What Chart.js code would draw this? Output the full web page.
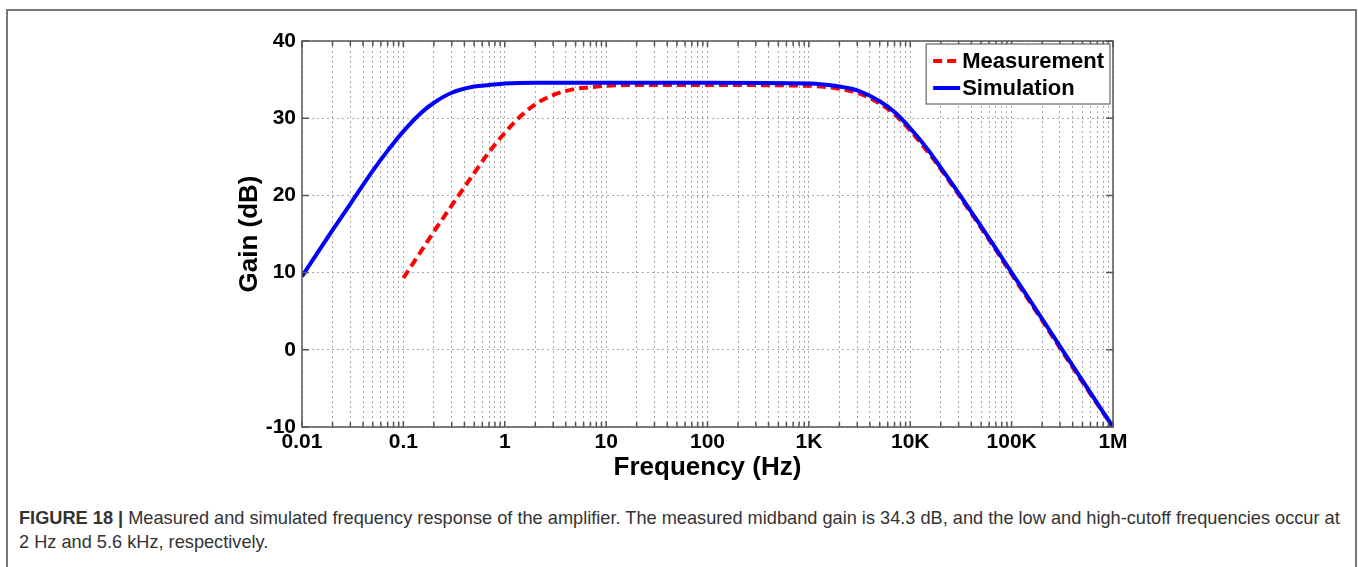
<!DOCTYPE html>
<html>
<head>
<meta charset="utf-8">
<script src="https://cdn.jsdelivr.net/npm/chart.js@4.4.1/dist/chart.umd.min.js"></script>
<style>
  body { margin: 0; background: #fff; }
  #frame { position: absolute; left: 6px; top: 9px; width: 1347px; height: 620px; border: 2px solid #777; border-bottom: none; }
  #wrap { position: absolute; left: 0; top: 0; width: 1358px; height: 490px; }
  #caption { position: absolute; left: 19px; top: 506px; font-family: "Liberation Sans", Arial, sans-serif; font-size: 18.2px; color: #333; line-height: 24px; white-space: nowrap; }
</style>
</head>
<body>
<div id="frame"></div>
<div id="wrap"><canvas id="grafico"></canvas></div>
<div id="caption"><b>FIGURE 18 |</b> Measured and simulated frequency response of the amplifier. The measured midband gain is 34.3 dB, and the low and high-cutoff frequencies occur at<br>2 Hz and 5.6 kHz, respectively.</div>

<script>
// valores (Hz, dB)
const freqSim = [0.01, 0.02, 0.03, 0.05, 0.07, 0.1, 0.15, 0.2, 0.3, 0.5, 0.7, 1, 2, 5, 10, 100, 1000, 2000, 3000, 5000, 7000, 10000, 15000, 20000, 30000, 50000, 70000, 100000, 200000, 500000, 1000000];
const gainSim = [9.5, 15.5, 18.9, 23.2, 25.8, 28.3, 30.7, 32.0, 33.3, 34.1, 34.3, 34.5, 34.6, 34.6, 34.6, 34.6, 34.5, 34.1, 33.6, 32.2, 30.8, 28.7, 25.9, 23.6, 20.3, 16.0, 13.1, 10.0, 4.0, -4.0, -10.0];

const freqMeas = [0.1, 0.15, 0.2, 0.3, 0.5, 0.7, 1, 1.5, 2, 3, 5, 7, 10, 20, 100, 1000, 2000, 3000, 5000, 7000, 10000, 15000, 20000, 30000, 50000, 70000, 100000, 200000, 500000, 1000000];
const gainMeas = [9.3, 12.8, 15.3, 18.7, 22.9, 25.6, 28.1, 30.5, 31.8, 33.0, 33.8, 34.0, 34.2, 34.3, 34.3, 34.2, 33.8, 33.3, 31.9, 30.5, 28.4, 25.6, 23.4, 20.1, 15.8, 12.9, 9.8, 3.8, -4.2, -10.0];

const tickValues = [0.01, 0.1, 1, 10, 100, 1000, 10000, 100000, 1000000];
const tickLabels = ["0.01", "0.1", "1", "10", "100", "1K", "10K", "100K", "1M"];
const yMin = -10, yMax = 40, yStep = 10;

const seriesNames = ["Measurement", "Simulation"];

// ticks menores 2..9 em cada década
let allTicks = [];
for (let i = 0; i < tickValues.length; i++) {
  allTicks.push({ value: tickValues[i], major: true });
  if (i < tickValues.length - 1) {
    for (let k = 2; k <= 9; k++) {
      allTicks.push({ value: tickValues[i] * k, major: false });
    }
  }
}

function pontos(xs, ys) {
  return xs.map((x, i) => ({ x: x, y: ys[i] }));
}

const boxPlugin = {
  id: 'box',
  afterDatasetsDraw(chart) {
    const { ctx, chartArea: a, scales } = chart;
    const x = scales.x, y = scales.y;
    ctx.save();
    ctx.strokeStyle = '#555';
    ctx.lineWidth = 1.5;
    ctx.strokeRect(a.left, a.top, a.right - a.left, a.bottom - a.top);
    ctx.beginPath();
    x.ticks.forEach(t => {
      const px = x.getPixelForValue(t.value);
      const len = t.major ? 6 : 5;
      ctx.moveTo(px, a.bottom); ctx.lineTo(px, a.bottom - len);
      ctx.moveTo(px, a.top); ctx.lineTo(px, a.top + len);
    });
    y.ticks.forEach(t => {
      const py = y.getPixelForValue(t.value);
      ctx.moveTo(a.left, py); ctx.lineTo(a.left + 7, py);
      ctx.moveTo(a.right, py); ctx.lineTo(a.right - 7, py);
    });
    ctx.stroke();
    ctx.restore();
  },
  afterDraw(chart) {
    const { ctx, chartArea: a } = chart;
    const ds = chart.data.datasets;
    ctx.save();
    ctx.font = 'bold 22px "Liberation Sans", Arial, sans-serif';
    let w = 0;
    ds.forEach(d => { w = Math.max(w, ctx.measureText(d.label).width); });
    const boxW = 36 + w + 6, boxH = 60;
    const bx = a.right - 3 - boxW, by = a.top + 3;
    ctx.fillStyle = '#fff';
    ctx.fillRect(bx, by, boxW, boxH);
    ctx.strokeStyle = '#666';
    ctx.lineWidth = 1.2;
    ctx.strokeRect(bx, by, boxW, boxH);
    ds.forEach((d, i) => {
      const ly = by + 17 + i * 27;
      ctx.beginPath();
      ctx.strokeStyle = d.borderColor;
      ctx.lineWidth = 4;
      ctx.setLineDash(d.borderDash || []);
      ctx.moveTo(bx + 7, ly);
      ctx.lineTo(bx + 34, ly);
      ctx.stroke();
      ctx.setLineDash([]);
      ctx.fillStyle = '#000';
      ctx.textBaseline = 'middle';
      ctx.fillText(d.label, bx + 36, ly + 1);
    });
    ctx.restore();
  }
};

const canvas = document.getElementById("grafico");

const chart = new Chart(canvas, {
  type: 'line',
  data: {
    datasets: [
      {
        label: seriesNames[0],
        data: pontos(freqMeas, gainMeas),
        borderColor: "#ff0000",
        borderDash: [9, 5],
        borderWidth: 4,
        pointRadius: 0,
        cubicInterpolationMode: 'monotone',
        order: 2
      },
      {
        label: seriesNames[1],
        data: pontos(freqSim, gainSim),
        borderColor: "#0000ff",
        borderWidth: 4,
        pointRadius: 0,
        cubicInterpolationMode: 'monotone',
        order: 1
      }
    ]
  },
  options: {
    responsive: true,
    maintainAspectRatio: false,
    animation: false,
    layout: { padding: { left: 220, right: 245, top: 41, bottom: 0 } },
    plugins: {
      legend: { display: false },
      tooltip: { enabled: false }
    },
    scales: {
      x: {
        type: 'logarithmic',
        min: tickValues[0],
        max: tickValues[tickValues.length - 1],
        afterBuildTicks: function(scale) {
          scale.ticks = allTicks.map(t => ({ value: t.value, major: t.major }));
        },
        afterFit: function(scale) { scale.height = 63; },
        ticks: {
          autoSkip: false,
          maxRotation: 0,
          padding: 3,
          color: '#000',
          font: { family: '"Liberation Sans", Arial, sans-serif', size: 21, weight: 'bold' },
          callback: function(value) {
            const idx = tickValues.indexOf(value);
            return idx >= 0 ? tickLabels[idx] : '';
          }
        },
        grid: { color: '#a8a8a8', lineWidth: 1, drawTicks: false },
        border: { display: false, dash: [2, 3] },
        title: {
          display: true,
          text: 'Frequency (Hz)',
          color: '#000',
          font: { family: '"Liberation Sans", Arial, sans-serif', size: 26, weight: 'bold' },
          padding: { top: 0, bottom: 7 }
        }
      },
      y: {
        min: yMin,
        max: yMax,
        afterFit: function(scale) { scale.width = 82; },
        ticks: {
          stepSize: yStep,
          padding: 6,
          color: '#000',
          font: { family: '"Liberation Sans", Arial, sans-serif', size: 21, weight: 'bold' }
        },
        grid: { color: '#a8a8a8', lineWidth: 1, drawTicks: false },
        border: { display: false, dash: [2, 3] },
        title: {
          display: true,
          text: 'Gain (dB)',
          color: '#000',
          font: { family: '"Liberation Sans", Arial, sans-serif', size: 26, weight: 'bold' },
          padding: { top: 14, bottom: 0 }
        }
      }
    }
  },
  plugins: [boxPlugin]
});
</script>
</body>
</html>
